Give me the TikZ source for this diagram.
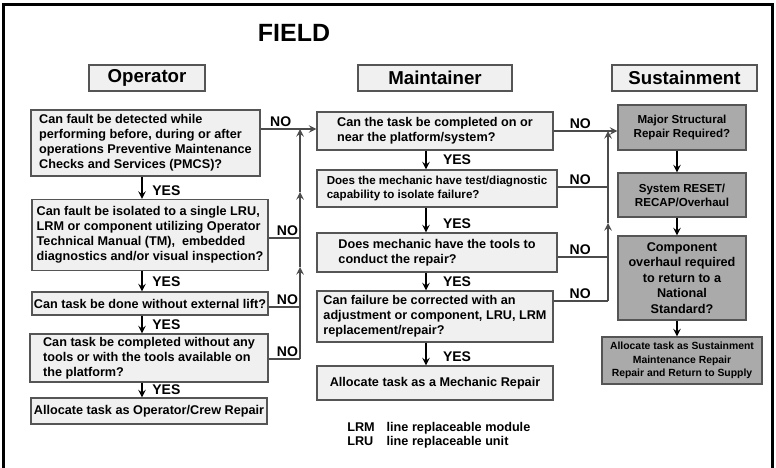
\documentclass[tikz,border=0pt]{standalone}
\usepackage{fontspec}
\setmainfont{Liberation Sans}
\usepackage{tikz}

\definecolor{boxfill}{RGB}{240,240,240}
\definecolor{boxline}{RGB}{85,85,85}
\definecolor{sustfill}{RGB}{170,170,170}
\definecolor{nocolor}{RGB}{75,75,75}

\begin{document}
\begin{tikzpicture}[x=0.75pt,y=-0.75pt]
        \useasboundingbox (0,0) rectangle (776,468);
        \draw[line width=2.2pt] (3.5,480) -- (3.5,4.5) -- (772.5,4.5) -- (772.5,480);
        \node (Field) at (294,33) {\bfseries\fontsize{18.7}{22}\selectfont FIELD};
        % column heads
        \begin{scope}[every node/.style={draw=boxline,fill=boxfill,thick,minimum height=19.5pt,inner sep=0pt,font=\bfseries\fontsize{14}{16}\selectfont}]
            \node[minimum width=87pt] (OpHead) at (147,78) {Operator};
            \node[minimum width=115.5pt] (MtHead) at (435,78) {Maintainer};
            \node[minimum width=108.75pt] (SuHead) at (684.5,78) {Sustainment};
        \end{scope}
        % operator and maintainer questions
        \begin{scope}[every node/.style={draw=boxline,fill=boxfill,thick,align=left,inner sep=0pt,font=\bfseries\fontsize{9.5}{11.25}\selectfont}]
            \node[minimum width=171.75pt,minimum height=49.5pt] (OpDetect) at (145.5,143) {Can fault be detected while\\performing before, during or after\\operations Preventive Maintenance\\Checks and Services (PMCS)?};
            \node[minimum width=177pt,minimum height=53.25pt] (OpIsolate) at (150,235) {Can fault be isolated to a single LRU,\\LRM or component utilizing Operator\\Technical Manual (TM),~ embedded\\diagnostics and/or visual inspection?};
            \node[minimum width=177pt,minimum height=17.25pt] (OpLift) at (150,303.5) {Can task be done without external lift?};
            \node[minimum width=178.5pt,minimum height=36pt] (OpTools) at (149,358) {Can task be completed without any\\tools or with the tools available on\\the platform?};
            \node[minimum width=177pt,minimum height=19.5pt] (OpCrew) at (149,411) {Allocate task as Operator/Crew Repair};
            \node[minimum width=177pt,minimum height=28.5pt] (MtComplete) at (435,131) {Can the task be completed on or\\near the platform/system?};
            \node[minimum width=180pt,minimum height=27.75pt,font=\bfseries\fontsize{8.7}{10.5}\selectfont] (MtDiag) at (437,188.5) {Does the mechanic have test/diagnostic\\capability to isolate failure?};
            \node[minimum width=180pt,minimum height=29.25pt] (MtTools) at (437,252.5) {Does mechanic have the tools to\\conduct the repair?};
            \node[minimum width=177pt,minimum height=38.25pt] (MtCorrect) at (435,316.5) {Can failure be corrected with an\\adjustment or component, LRU, LRM\\replacement/repair?};
            \node[minimum width=177pt,minimum height=25.5pt] (MtRepair) at (435,383) {Allocate task as a Mechanic Repair};
        \end{scope}
        % sustainment
        \begin{scope}[every node/.style={draw=boxline,fill=sustfill,thick,align=center,inner sep=0pt,font=\bfseries\fontsize{8.7}{10.5}\selectfont}]
            \node[minimum width=96pt,minimum height=33.75pt] (SuMajor) at (682,127.5) {Major Structural\\Repair Required?};
            \node[minimum width=96pt,minimum height=33pt] (SuReset) at (682,195) {System RESET/\\RECAP/Overhaul};
            \node[minimum width=96pt,minimum height=63pt,font=\bfseries\fontsize{9.5}{11.6}\selectfont] (SuNational) at (682,278) {Component\\overhaul required\\to return to a\\National\\Standard?};
            \node[minimum width=120pt,minimum height=35.25pt,font=\bfseries\fontsize{7.8}{10}\selectfont] (SuSupply) at (682,360.5) {Allocate task as Sustainment\\Maintenance Repair\\Repair and Return to Supply};
        \end{scope}
        \node[anchor=west,inner sep=0pt,font=\bfseries\fontsize{9.5}{10.5}\selectfont] (Legend) at (347,436) {\begin{tabular}{@{}l@{\hspace{9pt}}l@{}}LRM & line replaceable module\\LRU & line replaceable unit\end{tabular}};
        % spines and NO buses
        \coordinate (OpSpine) at (142,0);
        \coordinate (MtSpine) at (426,0);
        \coordinate (SuSpine) at (677,0);
        \coordinate (OpNoA) at (300,129);
        \coordinate (OpNoB) at (300,238);
        \coordinate (OpNoC) at (300,307);
        \coordinate (OpNoD) at (300,359);
        \coordinate (OpUpA) at (300,192);
        \coordinate (OpUpB) at (300,267);
        \coordinate (MtNoA) at (608,131);
        \coordinate (MtNoB) at (608,187);
        \coordinate (MtNoC) at (608,257);
        \coordinate (MtNoD) at (608,301);
        \coordinate (MtUp) at (608,223);
        \begin{scope}[every node/.style={inner sep=1pt,font=\bfseries\fontsize{10.5}{12}\selectfont}, every path/.style={line width=1.5pt, ->, >=stealth}]
            \path (OpDetect.south -| OpSpine) edge node[right=6pt,pos=0.65] {YES} (OpIsolate.north -| OpSpine);
            \path (OpIsolate.south -| OpSpine) edge node[right=6pt] {YES} (OpLift.north -| OpSpine);
            \path (OpLift.south -| OpSpine) edge node[right=6pt] {YES} (OpTools.north -| OpSpine);
            \path (OpTools.south -| OpSpine) edge node[right=6pt] {YES} (OpCrew.north -| OpSpine);
            \path (MtComplete.south -| MtSpine) edge node[right=11pt] {YES} (MtDiag.north -| MtSpine);
            \path (MtDiag.south -| MtSpine) edge node[right=11pt,pos=0.65] {YES} (MtTools.north -| MtSpine);
            \path (MtTools.south -| MtSpine) edge node[right=11pt] {YES} (MtCorrect.north -| MtSpine);
            \path (MtCorrect.south -| MtSpine) edge node[right=11pt,pos=0.6] {YES} (MtRepair.north -| MtSpine);
            \path (SuMajor.south -| SuSpine) edge (SuReset.north -| SuSpine);
            \path (SuReset.south -| SuSpine) edge (SuNational.north -| SuSpine);
            \path (SuNational.south -| SuSpine) edge (SuSupply.north -| SuSpine);
        \end{scope}
        \begin{scope}[every node/.style={inner sep=1pt,font=\bfseries\fontsize{10.5}{12}\selectfont}, every path/.style={nocolor, line width=1.5pt, >=stealth}]
            \path (OpNoA -| OpDetect.east) edge[->] node[above,pos=0.36,black] {NO} (OpNoA -| MtComplete.west);
            \path (OpNoB -| OpIsolate.east) edge node[above,pos=0.6,black] {NO} (OpNoB);
            \path (OpNoC -| OpLift.east) edge node[above,pos=0.6,black] {NO} (OpNoC);
            \path (OpNoD -| OpTools.east) edge node[above,pos=0.6,black] {NO} (OpNoD);
            \path (OpNoD) edge[->] (OpUpB);
            \path (OpUpB) edge[->] (OpUpA);
            \path (OpUpA) edge[->] (OpNoA);
            \path (MtNoA -| MtComplete.east) edge[->] node[above,pos=0.42,black] {NO} (MtNoA -| SuMajor.west);
            \path (MtNoB -| MtDiag.east) edge node[above,pos=0.45,black] {NO} (MtNoB);
            \path (MtNoC -| MtTools.east) edge node[above,pos=0.45,black] {NO} (MtNoC);
            \path (MtNoD -| MtCorrect.east) edge node[above,pos=0.49,black] {NO} (MtNoD);
            \path (MtNoD) edge[->] (MtUp);
            \path (MtUp) edge[->] (MtNoA);
        \end{scope}
    \end{tikzpicture}
\end{document}
